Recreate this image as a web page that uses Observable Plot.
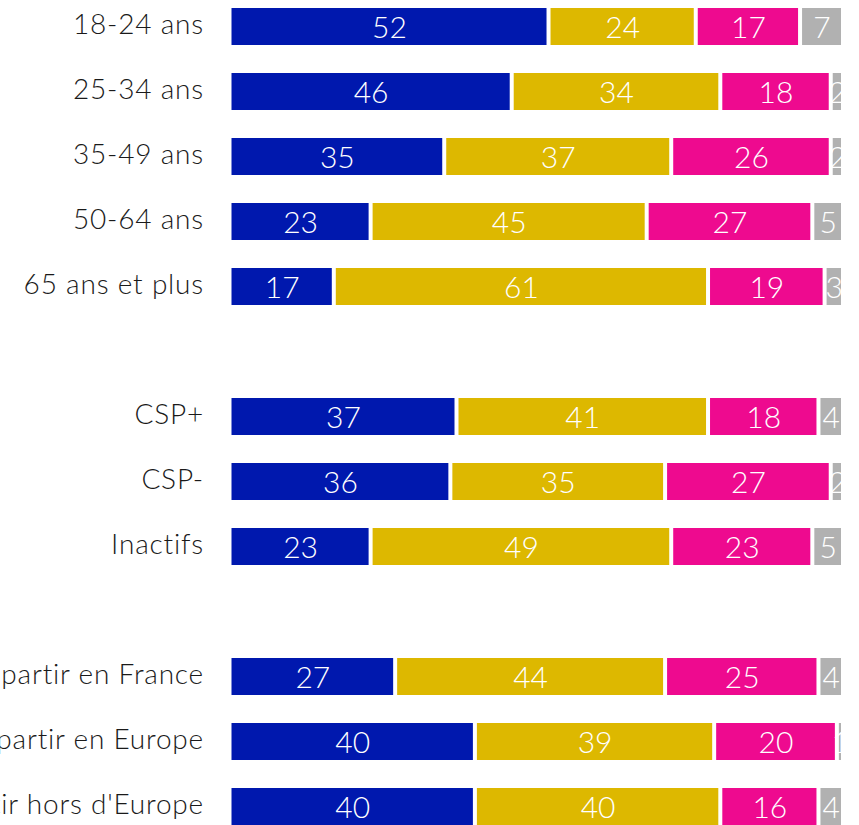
<!DOCTYPE html>
<html>
<head>
<meta charset="utf-8">
<script src="https://cdn.jsdelivr.net/npm/d3@7"></script>
<script src="https://cdn.jsdelivr.net/npm/@observablehq/plot@0.6"></script>
<style>
  html, body { margin: 0; padding: 0; overflow: hidden; background: #fff; }
  #chart svg { display: block; overflow: hidden; }
</style>
</head>
<body>
<div id="chart"></div>
<script>
const categories = [
  "18-24 ans", "25-34 ans", "35-49 ans", "50-64 ans", "65 ans et plus",
  "gap1",
  "CSP+", "CSP-", "Inactifs",
  "gap2",
  "Envie de partir en France", "Envie de partir en Europe", "Envie de partir hors d'Europe"
];
const seriesNames = ["Réponse A", "Réponse B", "Réponse C", "Sans opinion"];
const seriesColors = ["#0018AE", "#DDB800", "#EE0A8F", "#B1B1B1"];

const rowCategories = [
  "18-24 ans", "25-34 ans", "35-49 ans", "50-64 ans", "65 ans et plus",
  "CSP+", "CSP-", "Inactifs",
  "Envie de partir en France", "Envie de partir en Europe", "Envie de partir hors d'Europe"
];
const valuesA = [52, 46, 35, 23, 17, 37, 36, 23, 27, 40, 40];
const valuesB = [24, 34, 37, 45, 61, 41, 35, 49, 44, 39, 40];
const valuesC = [17, 18, 26, 27, 19, 18, 27, 23, 25, 20, 16];
const valuesD = [7, 2, 2, 5, 3, 4, 2, 5, 4, 1, 4];

const seriesValues = [valuesA, valuesB, valuesC, valuesD];
const data = [];
rowCategories.forEach((c, i) => {
  seriesNames.forEach((s, j) => {
    data.push({category: c, series: s, value: seriesValues[j][i]});
  });
});

const font = "Lato, 'Open Sans', sans-serif";

const chart = Plot.plot({
  width: 859,
  height: 827,
  marginLeft: 229.5,
  marginRight: 16,
  marginTop: 6,
  marginBottom: 0,
  style: {fontFamily: font, background: "white"},
  x: {domain: [0, 100], axis: null},
  y: {domain: categories, paddingInner: 0.43, paddingOuter: 0, label: null},
  color: {domain: seriesNames, range: seriesColors},
  marks: [
    Plot.axisY({
      tickSize: 0,
      tickPadding: 26,
      fontSize: 28,
      fontWeight: 300,
      fill: "#1a1a1a",
      dy: -2,
      tickFormat: d => d.startsWith("gap") ? "" : d,
      label: null
    }),
    Plot.barX(data, Plot.stackX({
      x: "value", y: "category", fill: "series", order: seriesNames,
      insetLeft: 2, insetRight: 2
    })),
    Plot.text(data, Plot.stackX({
      x: "value", y: "category", z: "series", order: seriesNames,
      text: d => String(d.value),
      fill: "white", fontSize: 30, fontWeight: 300, dy: 1,
      clip: true
    }))
  ]
});
chart.querySelectorAll("g[aria-label='y-axis tick label'] text").forEach(t => t.setAttribute("letter-spacing", "0.8"));
document.getElementById("chart").appendChild(chart);
</script>
</body>
</html>
